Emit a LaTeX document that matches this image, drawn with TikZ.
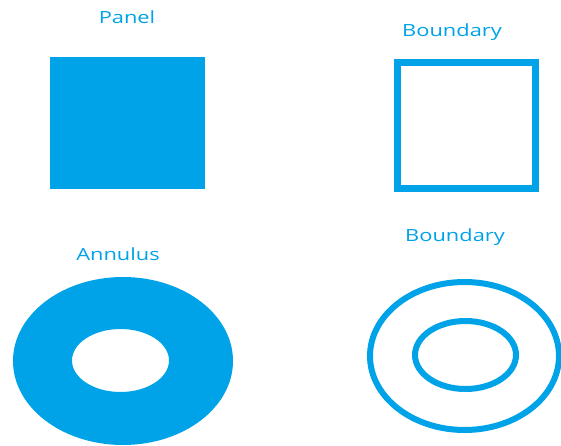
\documentclass[tikz,border=0pt]{standalone}
\usepackage{fontspec}
\newfontfamily\lblfont[FakeStretch=1.3]{Open Sans}
\definecolor{pblue}{RGB}{0,162,232}
\begin{document}
\begin{tikzpicture}[x=1pt,y=-1pt,
  lbl/.style={text=pblue,font=\lblfont\fontsize{16.8}{18}\selectfont,inner sep=0pt},
  thick line/.style={draw=pblue,line width=7pt},
  ring line/.style={draw=pblue,line width=6pt}]
\useasboundingbox (0,0) rectangle (561,446);
% Panel
\node[lbl] (panellbl) at (127,17) {Panel};
\fill[pblue] (50,57) rectangle (205,189);
% Boundary square
\node[lbl] (blbl1) at (452,32) {Boundary};
\draw[thick line] (397.5,62.5) rectangle (535,188.5);
% Annulus
\node[lbl] (annlbl) at (118,254) {Annulus};
\fill[pblue,even odd rule] (123,361) ellipse [x radius=110,y radius=84]
  (120.5,360.5) ellipse [x radius=48.5,y radius=31.5];
% Boundary ellipses
\node[lbl] (blbl2) at (455,237) {Boundary};
\draw[ring line] (464.5,356) ellipse [x radius=94.5,y radius=74];
\draw[ring line] (465.5,355) ellipse [x radius=50.5,y radius=34];
\end{tikzpicture}
\end{document}
